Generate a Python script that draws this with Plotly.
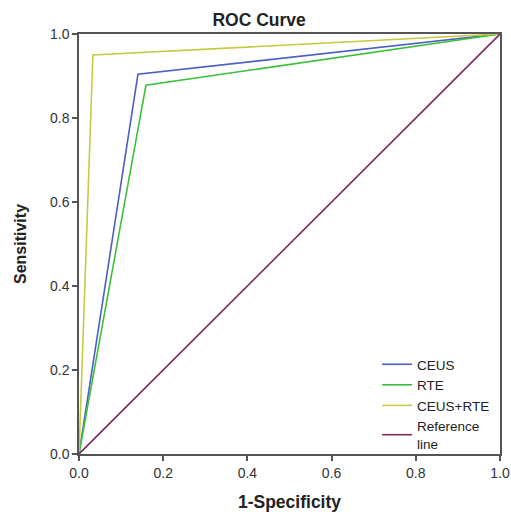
import plotly.graph_objects as go

series_names = ["CEUS", "RTE", "CEUS+RTE", "Reference<br>line"]
fpr_ceus = [0.0, 0.14, 1.0]
tpr_ceus = [0.0, 0.904, 1.0]
fpr_rte = [0.0, 0.159, 1.0]
tpr_rte = [0.0, 0.878, 1.0]
fpr_comb = [0.0, 0.033, 1.0]
tpr_comb = [0.0, 0.95, 1.0]
fpr_ref = [0.0, 1.0]
tpr_ref = [0.0, 1.0]
tick_vals = [0.0, 0.2, 0.4, 0.6, 0.8, 1.0]
tick_text = ["0.0", "0.2", "0.4", "0.6", "0.8", "1.0"]

colors = ["#4d5fc4", "#3cc03c", "#c9c843", "#7a2a5e"]
xs = [fpr_ceus, fpr_rte, fpr_comb, fpr_ref]
ys = [tpr_ceus, tpr_rte, tpr_comb, tpr_ref]

FONT = "Arial, Liberation Sans, Helvetica"

fig = go.Figure()
for name, x, y, c in zip(series_names, xs, ys, colors):
    fig.add_trace(go.Scatter(x=x, y=y, mode="lines", name=name,
                             line=dict(color=c, width=1.6)))

axis_common = dict(range=[0, 1], tickvals=tick_vals, ticktext=tick_text,
                   showgrid=False, zeroline=False, showline=True,
                   linecolor="#555555", linewidth=1.5, mirror=True,
                   ticks="outside", ticklen=5, tickcolor="#555555", tickwidth=1.5,
                   tickfont=dict(family=FONT, size=14, color="#333333"))

fig.update_layout(
    width=511, height=512,
    margin=dict(l=79, r=11, t=34, b=58, autoexpand=False),
    paper_bgcolor="white", plot_bgcolor="white",
    title=dict(text="<b>ROC Curve</b>", x=0.507, xanchor="center",
               yref="container", y=0.961, yanchor="middle",
               font=dict(family=FONT, size=17.5, color="#222222")),
    xaxis=dict(title=dict(text="<b>1-Specificity</b>", standoff=20,
                          font=dict(family=FONT, size=17.5, color="#222222")),
               **axis_common),
    yaxis=dict(title=dict(text="<b>Sensitivity</b>", standoff=19,
                          font=dict(family=FONT, size=16, color="#222222")),
               **axis_common),
    legend=dict(x=0.708, y=0.25, xanchor="left", yanchor="top",
                bgcolor="rgba(0,0,0,0)", tracegroupgap=0,
                font=dict(family=FONT, size=13.5, color="#222222"),
                itemwidth=30),
    showlegend=True,
)

fig.write_html("out.html", config={"displayModeBar": False},
               post_script="document.body.style.margin='0';document.body.style.overflow='hidden';")
